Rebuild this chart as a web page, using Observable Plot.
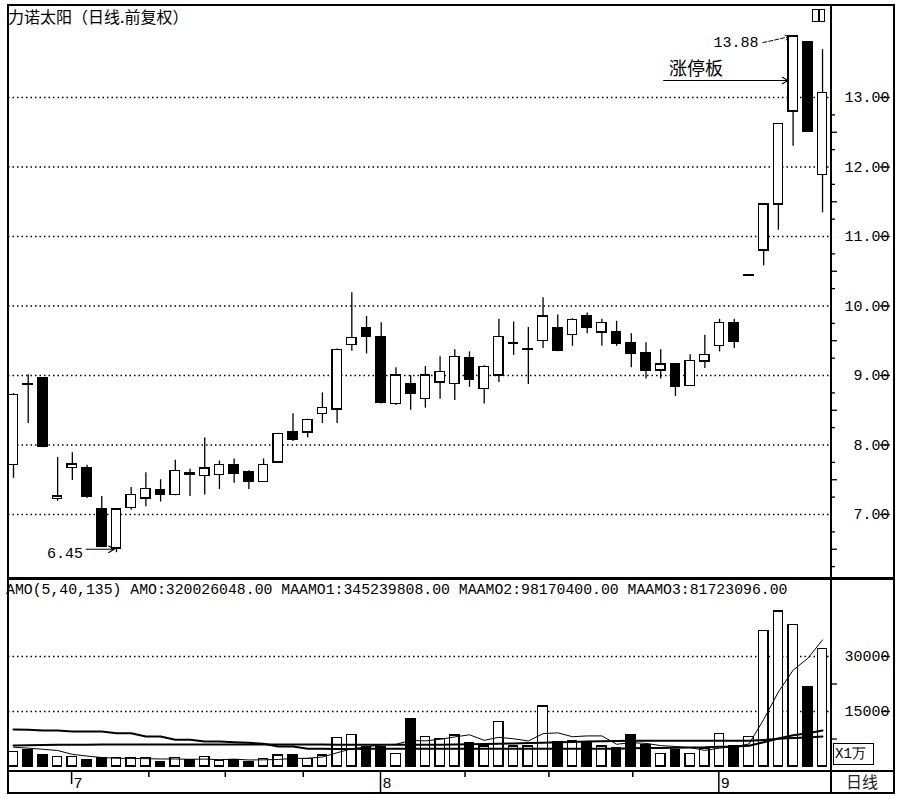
<!DOCTYPE html>
<html><head><meta charset="utf-8">
<script src="https://cdn.jsdelivr.net/npm/d3@7"></script>
<script src="https://cdn.jsdelivr.net/npm/@observablehq/plot@0.6"></script>
<style>
html,body{margin:0;padding:0;background:#fff;overflow:hidden;}
#wrap{position:relative;width:901px;height:799px;background:#fff;overflow:hidden;}
.ln{position:absolute;background:#000;z-index:3;}
.txt{position:absolute;white-space:pre;color:#000;line-height:1;z-index:4;}
.mono{font-family:"Liberation Mono","DejaVu Sans Mono",monospace;font-size:15px;}
.cjk{font-family:"Noto Sans CJK SC","Noto Sans",sans-serif;}
</style></head><body><div id="wrap"></div>
<script>
// ---- data ----
const opens  = [7.71,8.88,8.96,7.22,7.67,7.66,7.07,6.51,7.09,7.23,7.35,7.28,7.59,7.55,7.57,7.71,7.61,7.47,7.75,8.19,8.18,8.45,8.51,9.44,9.68,9.55,8.59,8.87,8.66,8.90,8.88,9.25,8.81,9.00,9.45,9.37,9.50,9.68,9.58,9.85,9.62,9.62,9.47,9.32,9.07,9.16,8.85,9.20,9.42,9.76,10.43,10.80,11.46,12.80,13.80,11.89];
const highs  = [8.74,9.01,8.97,7.82,7.89,7.71,7.26,7.08,7.39,7.60,7.50,7.78,7.65,8.10,7.77,7.80,7.63,7.80,8.17,8.45,8.37,8.75,9.38,10.19,9.85,9.76,9.11,9.00,9.13,9.27,9.37,9.34,9.14,9.81,9.77,9.69,10.12,9.87,9.82,9.90,9.81,9.78,9.60,9.47,9.37,9.17,9.30,9.58,9.81,9.81,10.45,11.47,12.62,13.88,13.80,13.69];
const lows   = [7.52,8.31,7.96,7.19,7.49,7.23,6.52,6.45,7.06,7.11,7.18,7.27,7.26,7.28,7.36,7.45,7.36,7.46,7.74,8.05,8.10,8.31,8.31,9.35,9.31,8.59,8.57,8.50,8.53,8.66,8.64,8.83,8.59,8.90,9.29,8.87,9.39,9.34,9.42,9.60,9.42,9.42,9.11,8.95,8.95,8.70,8.84,9.10,9.34,9.39,10.43,10.58,11.09,12.30,12.50,11.34];
const closes = [8.72,8.86,7.97,7.26,7.72,7.26,6.54,7.07,7.28,7.37,7.28,7.63,7.57,7.66,7.71,7.58,7.47,7.71,8.16,8.07,8.36,8.53,9.37,9.54,9.55,8.61,9.00,8.73,9.00,9.05,9.27,8.94,9.12,9.55,9.46,9.38,9.85,9.35,9.80,9.68,9.76,9.46,9.31,9.07,9.16,8.83,9.21,9.29,9.76,9.48,10.45,11.46,12.62,13.88,12.50,13.06];
// turnover (AMO), in 万
const amounts = [3900,4360,3190,2540,2540,1640,2270,2270,2270,2270,1180,2270,1820,2540,1550,1820,1180,2000,3000,3000,2000,3000,7720,8640,5270,5180,3460,13000,8000,7450,8450,6360,5450,12080,5450,5450,16360,6540,6820,6540,5450,5000,8640,5900,3460,4360,3460,4820,8900,5450,8000,37000,42270,38640,21540,32003];
const maamo1 = [5260,5000,4700,4360,3310,2850,2440,2250,2200,2140,2050,2050,1960,2020,1870,2000,1780,1820,1910,2200,2240,2600,3740,4870,5330,5960,6050,7110,6980,7420,8070,8650,7140,7960,7560,6960,8960,9180,8120,8340,8340,6070,6490,6310,5690,5470,5160,4400,5000,5400,6130,12830,20320,26270,29490,34524];
const maamo2 = [10090,10000,9820,9800,9545,9545,9545,9080,9080,8180,8180,7280,7280,6820,6820,6600,6460,6190,5450,5450,4830,4830,4800,4800,4820,4820,4820,4820,4850,4850,4850,4850,4830,4830,4830,4830,4830,4830,4820,4810,4810,4830,4960,5050,5070,5140,5170,5230,5400,5480,5650,6600,7620,8530,9040,9817];
const maamo3 = [5730,5800,5850,5900,5950,5950,6000,6000,6000,6000,6000,6000,6000,6000,6000,6000,6000,6000,6000,6000,6000,6000,5950,5950,5950,5950,5950,5950,5950,5950,6000,6050,6150,6220,6300,6400,6500,6600,6700,6800,6900,6950,7000,7000,7000,7000,7000,7000,7000,7000,7020,7250,7540,7800,7940,8172];

const priceTicks = [7,8,9,10,11,12,13];
const priceHalfTicks = [6.5,7.5,8.5,9.5,10.5,11.5,12.5];
const priceQuarterTicks = [6.25,6.75,7.25,7.75,8.25,8.75,9.25,9.75,10.25,10.75,11.25,11.75,12.25,12.75];
const amountTicks = [15000,30000];
const amountMinorTicks = [7500,22500];
const monthTicks = [3.95,24.95,47.95];
const monthLabels = ["7","8","9"];
const weekTicks = [9.2,14.4,19.7,30.7,36.4,42.1];

const noteText = ["6.45","13.88","涨停板"];
const noteX = [4.72,50.65,46.4];
const noteY = [6.45,13.79,13.40];
const arrowX1 = [4.95,44.2,50.95];
const arrowX2 = [6.85,52.65,52.75];
const arrowY1 = [6.50,13.245,13.79];
const arrowY2 = [6.50,13.245,13.875];

const headerText = "AMO(5,40,135) AMO:320026048.00 MAAMO1:345239808.00 MAAMO2:98170400.00 MAAMO3:81723096.00";
const titleText = "力诺太阳（日线.前复权）";

// ---- build ----
const candles = opens.map((o,i)=>({i, open:o, high:highs[i], low:lows[i], close:closes[i], up: closes[i] >= o}));
const vols = amounts.map((v,i)=>({i, v, up: candles[i].up, m1: maamo1[i], m2: maamo2[i], m3: maamo3[i]}));
const notes = noteText.map((t,k)=>({t, x: noteX[k], y: noteY[k]}));
const arrows = arrowX1.map((x1,k)=>({x1, x2: arrowX2[k], y1: arrowY1[k], y2: arrowY2[k], dashed: k===2}));

const xDomain = [-0.34, 55.61];
const hw = 0.32;
const mono = "'Liberation Mono','DejaVu Sans Mono',monospace";
const cjk = "'Noto Sans CJK SC','Noto Sans',sans-serif";
const baseStyle = {fontFamily: mono, fontSize: "15px", color: "black", background: "white", maxWidth: "none", overflow: "visible"};

const wrap = document.getElementById("wrap");
function place(el, top){ el.style.position="absolute"; el.style.left="0px"; el.style.top=top+"px"; wrap.appendChild(el); }

const pricePlot = Plot.plot({
  width: 901, height: 578, marginLeft: 8, marginRight: 70, marginTop: 5, marginBottom: 0,
  x: {domain: xDomain, axis: null},
  y: {domain: [6.079, 14.324], axis: null},
  style: baseStyle,
  marks: [
    Plot.ruleY(priceTicks, {strokeDasharray: "1.5,3", strokeWidth: 1.3}),
    Plot.axisY({anchor: "right", ticks: priceQuarterTicks, tickSize: 3, text: null, strokeWidth: 1.3}),
    Plot.axisY({anchor: "right", ticks: priceHalfTicks, tickSize: 5, text: null, strokeWidth: 1.3}),
    Plot.axisY({anchor: "right", ticks: priceTicks, tickSize: 10, tickPadding: 0, strokeWidth: 1.3,
      tickFormat: d => d.toFixed(2), textAnchor: "end", dx: 48, fontSize: 15}),
    Plot.ruleX(candles, {x: "i", y1: "low", y2: "high", strokeWidth: 1.3}),
    Plot.rect(candles, {x1: d => d.i - hw, x2: d => d.i + hw, y1: "open", y2: "close",
      fill: d => d.up ? "white" : "black", stroke: "black", strokeWidth: 1.3, shapeRendering: "crispEdges"}),
    Plot.arrow(arrows.filter(a => !a.dashed), {x1: "x1", y1: "y1", x2: "x2", y2: "y2", headLength: 8, strokeWidth: 1.2}),
    Plot.arrow(arrows.filter(a => a.dashed), {x1: "x1", y1: "y1", x2: "x2", y2: "y2", headLength: 7, strokeWidth: 1, strokeDasharray: "4,2"}),
    Plot.text(notes.slice(0,2), {x: "x", y: "y", text: "t", textAnchor: "end", fontFamily: mono, fontSize: 15, fill: "black"}),
    Plot.text(notes.slice(2), {x: "x", y: "y", text: "t", textAnchor: "middle", fontFamily: cjk, fontSize: 18, fill: "black"})
  ]
});
place(pricePlot, 0);

const volPlot = Plot.plot({
  width: 901, height: 193, marginLeft: 8, marginRight: 70, marginTop: 0, marginBottom: 0,
  x: {domain: xDomain, axis: null},
  y: {domain: [-1364, 51273], axis: null},
  style: baseStyle,
  marks: [
    Plot.ruleY(amountTicks, {strokeDasharray: "1.5,3", strokeWidth: 1.3}),
    Plot.axisY({anchor: "right", ticks: amountMinorTicks, tickSize: 5, text: null, strokeWidth: 1.3}),
    Plot.axisY({anchor: "right", ticks: amountTicks, tickSize: 9, tickPadding: 0, strokeWidth: 1.3,
      tickFormat: d => String(d), textAnchor: "end", dx: 49, fontSize: 15}),
    Plot.rect(vols, {x1: d => d.i - hw, x2: d => d.i + hw, y1: 0, y2: "v",
      fill: d => d.up ? "white" : "black", stroke: "black", strokeWidth: 1.3, shapeRendering: "crispEdges"}),
    Plot.line(vols, {x: "i", y: "m3", strokeWidth: 2}),
    Plot.line(vols, {x: "i", y: "m2", strokeWidth: 2}),
    Plot.line(vols, {x: "i", y: "m1", strokeWidth: 1})
  ]
});
place(volPlot, 578);

const datePlot = Plot.plot({
  width: 901, height: 22, marginLeft: 8, marginRight: 70, marginTop: 0, marginBottom: 0,
  x: {domain: xDomain, axis: null},
  y: {domain: [0, 22], range: [0, 22], axis: null},
  style: baseStyle,
  marks: [
    Plot.ruleX(weekTicks, {x: d => d, y1: 0, y2: 6, strokeWidth: 1.5}),
    Plot.ruleX(monthTicks, {x: d => d, y1: 0, y2: (d, k) => k === 0 ? 13 : 22, strokeWidth: 1.5}),
    Plot.text(monthLabels, {x: (d, k) => monthTicks[k], y: 12, text: d => d, textAnchor: "start", dx: 2, fontSize: 15, fill: "black"})
  ]
});
place(datePlot, 771);

// ---- frame and overlay text ----
function line(l, t, w, h){ const d = document.createElement("div"); d.className = "ln";
  Object.assign(d.style, {left: l+"px", top: t+"px", width: w+"px", height: h+"px"}); wrap.appendChild(d); }
line(7, 4, 888, 2);     // top
line(7, 4, 2, 790);     // left
line(893, 4, 2, 790);   // right outer
line(830, 4, 2, 790);   // axis column divider
line(7, 577, 888, 3);   // price / amount separator
line(7, 770, 888, 2);   // amount / date separator
line(7, 792, 888, 2);   // bottom

function text(str, cls, l, t, extra){ const d = document.createElement("div"); d.className = "txt " + cls;
  d.textContent = str; Object.assign(d.style, {left: l+"px", top: t+"px"}, extra || {}); wrap.appendChild(d); return d; }
text(titleText, "cjk", 8, 8, {fontSize: "16px"});
text(headerText, "mono", 6, 583, {fontSize: "14.8px"});
const box = text("X1万", "mono", 833, 743, {border: "1.5px solid #000", padding: "3px 2px 3px 1px", width: "36px", background: "#fff", fontSize: "14px"});
text("日线", "cjk", 846, 773, {fontSize: "16px", color: "#222"});
// small window icon at top right
const icon = document.createElement("div");
Object.assign(icon.style, {position: "absolute", left: "812px", top: "9px", width: "11px", height: "11px", border: "1.5px solid #000", zIndex: 4});
const iconBar = document.createElement("div");
Object.assign(iconBar.style, {position: "absolute", left: "5px", top: "0px", width: "1.5px", height: "11px", background: "#000"});
icon.appendChild(iconBar); wrap.appendChild(icon);
</script>
</body></html>
